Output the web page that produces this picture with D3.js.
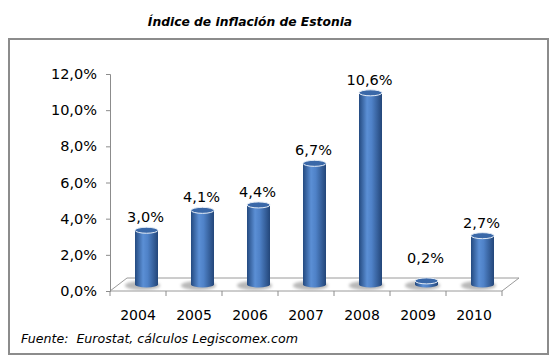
<!DOCTYPE html>
<html>
<head>
<meta charset="utf-8">
<style>
  body { margin: 0; padding: 0; background: #ffffff; }
  text { font-family: 'DejaVu Sans', Verdana, sans-serif; fill: #000; }
</style>
</head>
<body>
<div id="chart"></div>
<script src="https://cdnjs.cloudflare.com/ajax/libs/d3/7.8.5/d3.min.js"></script>
<script>

// data
var years = ["2004", "2005", "2006", "2007", "2008", "2009", "2010"]
var inflation = [3.0, 4.1, 4.4, 6.7, 10.6, 0.2, 2.7]
var yTicks = [0, 2, 4, 6, 8, 10, 12]

var width = 556,
    height = 360

var svg = d3.select("#chart").append("svg")
  .attr("width", width)
  .attr("height", height)

// gradient for the cylinders
var defs = svg.append("defs")
var grad = defs.append("linearGradient").attr("id", "cyl")
grad.append("stop").attr("offset", "0%").attr("stop-color", "#244a80")
grad.append("stop").attr("offset", "35%").attr("stop-color", "#5b8fd5")
grad.append("stop").attr("offset", "55%").attr("stop-color", "#4f82c8")
grad.append("stop").attr("offset", "100%").attr("stop-color", "#234679")
defs.append("filter").attr("id", "blur")
  .append("feGaussianBlur").attr("stdDeviation", 1.6)

// outer frame
svg.append("rect")
  .attr("x", 9).attr("y", 39)
  .attr("width", 539).attr("height", 315)
  .attr("fill", "none")
  .attr("stroke", "#8c8c8c")
  .attr("stroke-width", 2)

// title
svg.append("text")
  .attr("x", 250).attr("y", 26)
  .attr("text-anchor", "middle")
  .style("font-size", "12.3px")
  .style("font-weight", "bold")
  .style("font-style", "italic")
  .text("Índice de inflación de Estonia")

var x = d3.scaleBand().domain(years).range([110, 502]).padding(0)
var y = d3.scaleLinear().domain([0, 12]).range([291, 74])

var depthX = 17, depthY = -13  // floor depth
var fmt = function (v) { return d3.format(".1f")(v).replace(".", ",") + "%" }

// floor
var x0 = x.range()[0], x1 = x.range()[1], y0 = y(0)
svg.append("path")
  .attr("d", "M" + x0 + "," + y0 + "L" + (x0 + depthX) + "," + (y0 + depthY) +
    "L" + (x1 + depthX) + "," + (y0 + depthY) + "L" + x1 + "," + y0 + "Z")
  .attr("fill", "#fff")
  .attr("stroke", "#9a9a9a")

// y axis
var yAxis = svg.append("g")
  .attr("transform", "translate(" + x0 + ",0)")
  .call(d3.axisLeft(y).tickValues(yTicks).tickSize(4).tickPadding(9).tickFormat(fmt))
yAxis.select(".domain").attr("stroke", "#8c8c8c")
yAxis.selectAll(".tick line").attr("stroke", "#8c8c8c")
yAxis.selectAll("text").style("font-size", "14.5px").attr("font-family", null)

// x axis ticks at band edges and year labels
svg.append("g").selectAll("line")
  .data(years.concat(["end"]))
  .enter().append("line")
  .attr("x1", function (d, i) { return x0 + i * x.bandwidth() })
  .attr("x2", function (d, i) { return x0 + i * x.bandwidth() })
  .attr("y1", y0).attr("y2", y0 + 5)
  .attr("stroke", "#8c8c8c")

svg.append("g").selectAll("text")
  .data(years)
  .enter().append("text")
  .attr("x", function (d) { return x(d) + x.bandwidth() / 2 })
  .attr("y", 320)
  .attr("text-anchor", "middle")
  .style("font-size", "14px")
  .text(function (d) { return d })

// cylinders
var r = 11.5, ry = 3
var cx = function (i) { return x(years[i]) + x.bandwidth() / 2 + depthX / 2 }
var cylTop = function (v) { return y(v) + depthY / 2 }
var base = y0 + depthY / 2

var bars = svg.append("g").selectAll("g")
  .data(inflation)
  .enter().append("g")

bars.append("ellipse")  // floor shadow
  .attr("cx", function (d, i) { return cx(i) - 4 })
  .attr("cy", base + 1)
  .attr("rx", r + 6).attr("ry", ry + 1.5)
  .attr("fill", "#b8b8b8")
  .attr("filter", "url(#blur)")

bars.append("path")
  .attr("d", function (d, i) {
    var c = cx(i), t = cylTop(d)
    return "M" + (c - r) + "," + t + "L" + (c - r) + "," + base +
      "A" + r + "," + ry + " 0 0 0 " + (c + r) + "," + base +
      "L" + (c + r) + "," + t + "Z"
  })
  .attr("fill", "url(#cyl)")

bars.append("ellipse")
  .attr("cx", function (d, i) { return cx(i) })
  .attr("cy", function (d) { return cylTop(d) })
  .attr("rx", r).attr("ry", ry)
  .attr("fill", "#3a68a8")
  .attr("stroke", "#e4ecf6")
  .attr("stroke-width", 1)

bars.append("text")
  .attr("x", function (d, i) { return cx(i) - 1 })
  .attr("y", function (d) { return Math.min(cylTop(d) - 8, y0 - 28) })
  .attr("text-anchor", "middle")
  .style("font-size", "14.5px")
  .text(fmt)

// source note
svg.append("text")
  .attr("x", 21).attr("y", 343)
  .style("font-size", "12.6px")
  .style("font-style", "italic")
  .style("white-space", "pre")
  .text("Fuente:  Eurostat, cálculos Legiscomex.com")

</script>
</body>
</html>
